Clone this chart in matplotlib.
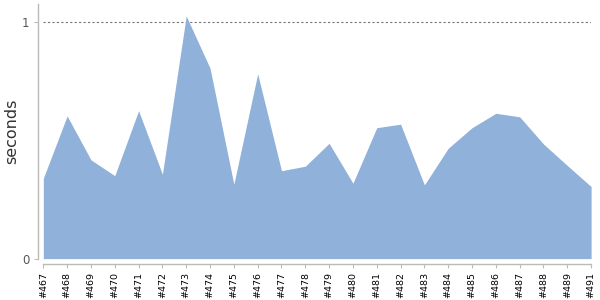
import matplotlib
matplotlib.use("Agg")
import matplotlib.pyplot as plt
import numpy as np

labels = ["#467", "#468", "#469", "#470", "#471", "#472", "#473", "#474",
          "#475", "#476", "#477", "#478", "#479", "#480", "#481", "#482",
          "#483", "#484", "#485", "#486", "#487", "#488", "#489", "#491"]
values = [0.34, 0.604, 0.418, 0.351, 0.626, 0.357, 1.027, 0.806,
          0.315, 0.782, 0.372, 0.391, 0.488, 0.319, 0.554, 0.569,
          0.312, 0.467, 0.554, 0.615, 0.60, 0.485, 0.394, 0.305]
yticks = [0, 1]

fig = plt.figure(figsize=(6, 3), dpi=100)
ax = fig.add_axes([0.0722, 0.138, 0.913, 0.849])
x = np.arange(len(values))
ax.fill_between(x, 0, values, color="#8fb1da", linewidth=0)
ax.axhline(1, color="#777777", linestyle=(0, (2, 2)), linewidth=0.8, zorder=0)
ax.set_xlim(0, len(values) - 1)
ax.set_ylim(0, 1.078)
for s in ["top", "right"]:
    ax.spines[s].set_visible(False)
for s in ["left", "bottom"]:
    ax.spines[s].set_color("#bbbbbb")
    ax.spines[s].set_linewidth(1.0)
    ax.spines[s].set_position(("outward", 4))
ax.tick_params(axis="x", colors="#bbbbbb", length=3, labelcolor="black", pad=2.5,
               labelsize=6.8)
ax.tick_params(axis="y", colors="#bbbbbb", length=3, labelcolor="#555555", pad=3,
               labelsize=8.5)
ax.set_xticks(x)
ax.set_xticklabels(labels, rotation=90)
ax.set_yticks(yticks)
ax.set_yticklabels([str(v) for v in yticks])
ax.set_ylabel("seconds", fontsize=11.5, color="#333333")
ax.yaxis.set_label_coords(-0.044, 0.5)
fig.savefig("out.png", dpi=100)
